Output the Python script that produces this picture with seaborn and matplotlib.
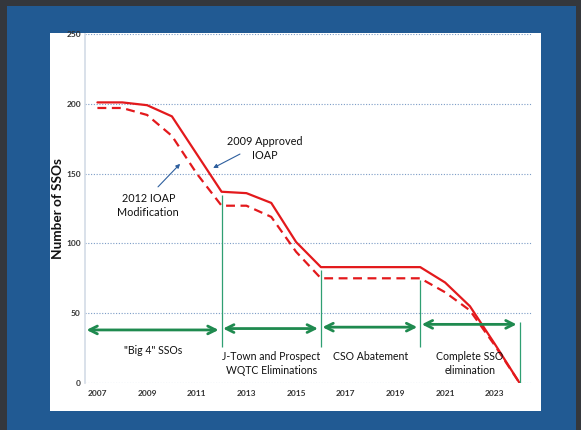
import numpy as np
import pandas as pd
import seaborn as sns
import matplotlib.pyplot as plt
from matplotlib.patches import Rectangle

# data
years = list(range(2007, 2025))
approved_2009 = [201, 201, 199, 191, 164, 137, 136, 129, 101, 83, 83, 83, 83, 83, 72, 55, 28, 0]
modified_2012 = [197, 197, 192, 177, 150, 127, 127, 119, 94, 75, 75, 75, 75, 75, 65, 52, 27, 0]

phase_labels = ['"Big 4" SSOs', 'J-Town and Prospect\nWQTC Eliminations',
                'CSO Abatement', 'Complete SSO\nelimination']
phase_bounds = [2006.5, 2012, 2016, 2020, 2024]
year_ticks = list(range(2007, 2025, 2))
y_ticks = [0, 50, 100, 150, 200, 250]

sns.set_theme(style='white')
plt.rcParams['font.family'] = ['Lato', 'DejaVu Sans']

red = '#e3191c'
green = '#1f8a4f'
teal = '#2f9f72'
arrow_blue = '#2e5f9e'

fig = plt.figure(figsize=(5.81, 4.30), dpi=100, facecolor='#34373c')
# slide background and white chart panel
fig.patches.append(Rectangle((7 / 581, 0), 569 / 581, 424 / 430, transform=fig.transFigure,
                             facecolor='#215a93', edgecolor='none', zorder=-2))
fig.patches.append(Rectangle((50 / 581, 19 / 430), 491 / 581, 378 / 430, transform=fig.transFigure,
                             facecolor='white', edgecolor='none', zorder=-1))

ax = fig.add_axes([85 / 581, 47 / 430, 447 / 581, 349 / 430])
ax.set_facecolor('white')

sns.lineplot(x=years, y=approved_2009, ax=ax, color=red, lw=1.6)
sns.lineplot(x=years, y=modified_2012, ax=ax, color=red, lw=1.6, linestyle=(0, (4, 2.5)))

ax.set_xlim(2006.5, 2024.5)
ax.set_ylim(0, 250)
ax.set_xticks(year_ticks)
ax.set_yticks(y_ticks)
ax.tick_params(axis='x', length=0, labelsize=6, colors='#333333', pad=5)
ax.tick_params(axis='y', length=0, labelsize=6, colors='#333333', pad=3)
for lab in ax.get_xticklabels() + ax.get_yticklabels():
    lab.set_fontweight('bold')
for y in y_ticks:
    ax.axhline(y, color='#7c9cc6', lw=0.8, ls=(0, (1, 1.5)), zorder=0)
for s in ['top', 'right', 'bottom']:
    ax.spines[s].set_visible(False)
ax.spines['left'].set_color('#d3dbe6')
ax.spines['left'].set_linewidth(1.2)
ax.set_xlabel('')
ax.set_ylabel('Number of SSOs', fontsize=9.8, fontweight='bold', color='#111111')
ax.yaxis.set_label_coords(-0.046, 0.5)

# phase boundaries
ax.vlines([2012, 2016, 2020, 2024], [26, 26, 26, 0], [135, 81, 74, 44], color=teal, lw=0.9)

# phase arrows and labels
arrow_y = [38, 39, 40, 42]
label_y = [23, 14, 19, 14]
for i, lab in enumerate(phase_labels):
    x0, x1 = phase_bounds[i] + 0.06, phase_bounds[i + 1] - 0.12
    ax.annotate('', xy=(x1, arrow_y[i]), xytext=(x0, arrow_y[i]),
                arrowprops=dict(arrowstyle='<->', lw=2, color=green, mutation_scale=14,
                                shrinkA=0, shrinkB=0))
    ax.text((phase_bounds[i] + phase_bounds[i + 1]) / 2, label_y[i], lab,
            ha='center', va='center', fontsize=7.6, color='#111111', linespacing=1.35)

# series annotations
ax.text(2013.75, 168, '2009 Approved\nIOAP', ha='center', va='center', fontsize=7.8,
        color='#111111', linespacing=1.35)
ax.annotate('', xy=(2011.66, 154), xytext=(2012.74, 164),
            arrowprops=dict(arrowstyle='-|>', color=arrow_blue, lw=0.8, mutation_scale=6,
                            shrinkA=0, shrinkB=0))
ax.text(2009.05, 127, '2012 IOAP\nModification', ha='center', va='center', fontsize=7.8,
        color='#111111', linespacing=1.35)
ax.annotate('', xy=(2010.33, 157), xytext=(2009.44, 140.5),
            arrowprops=dict(arrowstyle='-|>', color=arrow_blue, lw=0.8, mutation_scale=6,
                            shrinkA=0, shrinkB=0))

fig.savefig('out.png', dpi=100)
